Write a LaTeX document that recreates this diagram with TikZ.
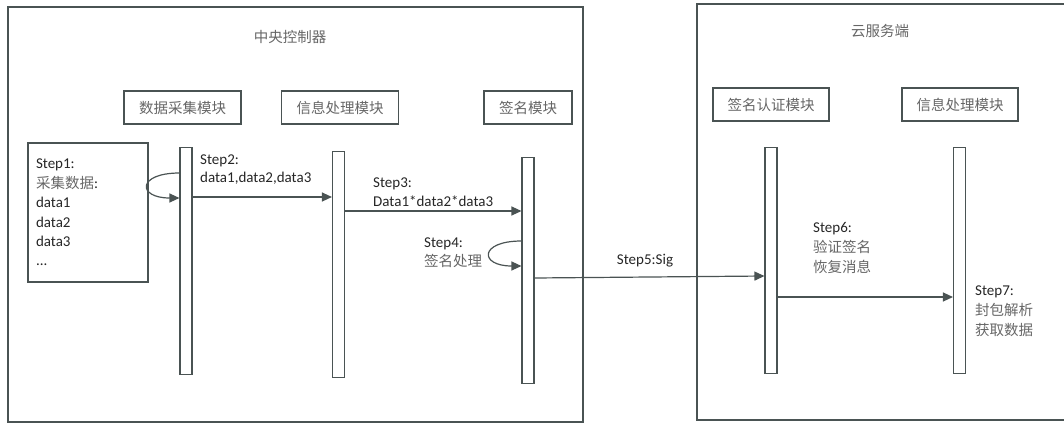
\documentclass[tikz,border=0pt]{standalone}
\usepackage{fontspec}
\setmainfont{Carlito}
\newfontfamily\cjk{Noto Sans CJK SC}
\usetikzlibrary{arrows.meta}
\definecolor{lineC}{HTML}{4A5353}
\definecolor{txtC}{HTML}{262626}
\definecolor{cjkC}{HTML}{666666}
\tikzset{
  frame/.style={draw=lineC, line width=1.1pt},
  module/.style={draw=lineC, line width=1.1pt, inner sep=0pt, font=\cjk\fontsize{14.5}{17}\selectfont, text=cjkC},
  lifeline/.style={draw=lineC, line width=1.1pt, minimum width=12pt, inner sep=0pt, anchor=north},
  msg/.style={draw=lineC, line width=1.2pt, -{Triangle[length=10pt,width=9pt]}},
  lbl/.style={anchor=north west, inner sep=0pt, align=left, text=txtC, font=\fontsize{15}{19.5}\selectfont},
  ttl/.style={inner sep=0pt, text=cjkC, font=\cjk\fontsize{14.5}{17}\selectfont}
}
\newcommand{\zh}[1]{{\cjk\fontsize{14.5}{17}\selectfont\color{cjkC}#1}}
\begin{document}
\begin{tikzpicture}[x=1pt,y=-1pt]
\useasboundingbox (0,0) rectangle (1064,423);
% containers
\draw[frame] (8,7) rectangle (583,422);
\draw[frame] (697,4) rectangle (1070,420);
\node[ttl] (t1) at (290,37) {中央控制器};
\node[ttl] (t2) at (880,31) {云服务端};
% modules
\node[module, minimum width=117pt, minimum height=33pt] (m1) at (182.5,107.5) {数据采集模块};
\node[module, minimum width=117pt, minimum height=33pt] (m2) at (340,107.5) {信息处理模块};
\node[module, minimum width=88pt, minimum height=33pt] (m3) at (528,107.5) {签名模块};
\node[module, minimum width=116pt, minimum height=33pt] (m4) at (771,104.5) {签名认证模块};
\node[module, minimum width=116pt, minimum height=33pt] (m5) at (960,104.5) {信息处理模块};
% lifelines
\node[lifeline, minimum height=227pt] (L1) at (186,147) {};
\node[lifeline, minimum height=226pt] (L2) at (338.5,151) {};
\node[lifeline, minimum height=226pt] (L3) at (528,157) {};
\node[lifeline, minimum height=226pt] (C1) at (771,147) {};
\node[lifeline, minimum height=226pt] (C2) at (959.5,147) {};
% step1 box
\node[draw=lineC, line width=1.1pt, minimum width=120pt, minimum height=139pt, text width=104pt, inner xsep=8pt, inner ysep=0pt, align=left, text=txtC, font=\fontsize{15}{19.4}\selectfont] (s1) at (88,212.5)
 {Step1:\\\zh{采集数据}:\\data1\\data2\\data3\\...};
% self loops
\coordinate (a1) at ([yshift=-26pt]L1.north west);
\coordinate (b1) at ([yshift=-51pt]L1.north west);
\draw[msg] (a1) .. controls (137,173) and (137,198) .. (b1);
\coordinate (a4) at ([yshift=-84pt]L3.north west);
\coordinate (b4) at ([yshift=-109pt]L3.north west);
\draw[msg] (a4) .. controls (479,241) and (479,266) .. (b4);
% messages
\draw[msg] ([yshift=-50pt]L1.north east) -- ([yshift=-46pt]L2.north west);
\draw[msg] ([yshift=-60pt]L2.north east) -- ([yshift=-54pt]L3.north west);
\draw[msg] ([yshift=-121pt]L3.north east) -- ([yshift=-129pt]C1.north west);
\draw[msg] ([yshift=-150pt]C1.north east) -- ([yshift=-150pt]C2.north west);
% labels
\node[lbl, font=\fontsize{15}{18.5}\selectfont] (l2) at (200,154.5) {Step2:\\data1,data2,data3};
\node[lbl] (l3) at (373,177.5) {Step3:\\Data1*data2*data3};
\node[lbl] (l4) at (424,237.5) {Step4:\\\zh{签名处理}};
\node[inner sep=0pt, text=txtC, font=\fontsize{15}{17}\selectfont] (l5) at (645,261) {Step5:Sig};
\node[lbl, font=\fontsize{15}{20}\selectfont] (l6) at (813,222.5) {Step6:\\\zh{验证签名}\\\zh{恢复消息}};
\node[lbl, font=\fontsize{15}{20}\selectfont] (l7) at (975,285.5) {Step7:\\\zh{封包解析}\\\zh{获取数据}};
\end{tikzpicture}
\end{document}
